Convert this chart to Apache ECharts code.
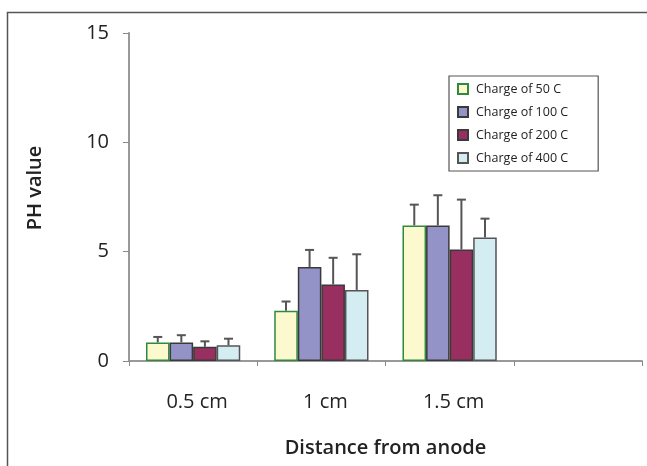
<!DOCTYPE html>
<html><head><meta charset="utf-8">
<script src="https://cdn.jsdelivr.net/npm/echarts@6/dist/echarts.min.js"></script>
<style>html,body{margin:0;padding:0;background:#fff}#c{width:647px;height:466px}</style>
</head><body><div id="c"></div>
<script>
const categories = ['0.5 cm', '1 cm', '1.5 cm', ''];
const seriesNames = ['Charge of 50 C', 'Charge of 100 C', 'Charge of 200 C', 'Charge of 400 C'];
const charge50 = [0.85, 2.3, 6.2, null];
const charge100 = [0.85, 4.3, 6.2, null];
const charge200 = [0.65, 3.5, 5.1, null];
const charge400 = [0.72, 3.25, 5.65, null];
const err50 = [0.25, 0.42, 0.95, null];
const err100 = [0.33, 0.78, 1.38, null];
const err200 = [0.25, 1.22, 2.28, null];
const err400 = [0.3, 1.63, 0.86, null];
const yTicks = [0, 5, 10, 15];

const values = [charge50, charge100, charge200, charge400];
const errs = [err50, err100, err200, err400];
const fills = ['#fdf9cf', '#9393c8', '#982f60', '#d3edf3'];
const borders = ['#2f8a3c', '#3a3a3a', '#3a3a3a', '#555555'];
const FONT = 'Open Sans';
const catGap = 0.265;

const chart = echarts.init(document.getElementById('c'));
const series = [];
values.forEach((v, i) => {
  series.push({
    name: seriesNames[i], type: 'bar', data: v, barGap: 0, barCategoryGap: (catGap * 100) + '%',
    itemStyle: { color: fills[i], borderColor: borders[i], borderWidth: 1.5 },
    z: 2
  });
});
values.forEach((v, i) => {
  series.push({
    type: 'custom', silent: true, z: 3,
    data: v.map((val, k) => [k, val, errs[i][k]]).filter(d => d[1] != null),
    renderItem: function (params, api) {
      const k = api.value(0), val = api.value(1), e = api.value(2);
      const bandW = api.size([1, 0])[0];
      const bw = bandW * (1 - catGap) / 4;
      const base = api.coord([k, val]);
      const top = api.coord([k, val + e]);
      const x = base[0] + (i - 1.5) * bw;
      return { type: 'group', children: [
        { type: 'line', shape: { x1: x, y1: base[1], x2: x, y2: top[1] }, style: { stroke: '#555', lineWidth: 2 } },
        { type: 'line', shape: { x1: x - 4.5, y1: top[1], x2: x + 4.5, y2: top[1] }, style: { stroke: '#555', lineWidth: 2 } }
      ]};
    }
  });
});

chart.setOption({
  animation: false,
  backgroundColor: '#fff',
  textStyle: { fontFamily: FONT },
  graphic: [{ type: 'polyline', shape: { points: [[7.5, 466], [7.5, 12.5], [647, 12.5]] }, style: { stroke: '#555', lineWidth: 1.5, fill: null } }],
  grid: { left: 129, right: 5, top: 33, bottom: 105, containLabel: false },
  legend: {
    data: seriesNames, orient: 'vertical', left: 449, top: 76,
    icon: 'rect', itemWidth: 10, itemHeight: 10, itemGap: 8,
    padding: [5.5, 30, 5.5, 8], borderColor: '#555', borderWidth: 1.2,
    textStyle: { fontFamily: FONT, fontSize: 12.5, lineHeight: 15, color: '#222', padding: [0, 0, 0, 3] },
    selectedMode: false
  },
  xAxis: {
    type: 'category', data: categories,
    name: 'Distance from anode', nameLocation: 'middle', nameGap: 77,
    nameTextStyle: { fontFamily: FONT, fontSize: 20, fontWeight: 600, color: '#222' },
    axisLine: { lineStyle: { color: '#999', width: 2 } },
    axisTick: { show: true, length: 5, alignWithLabel: false, lineStyle: { color: '#888' } },
    axisLabel: { margin: 31, fontSize: 20, color: '#222', fontFamily: FONT, padding: [0, 0, 0, 8] }
  },
  yAxis: {
    type: 'value', min: 0, max: 15, interval: 5,
    name: 'PH value', nameLocation: 'middle', nameGap: 84, nameRotate: 90,
    nameTextStyle: { fontFamily: FONT, fontSize: 20, fontWeight: 600, color: '#222', padding: [0, 0, 0, 18] },
    splitLine: { show: false },
    axisLine: { show: true, lineStyle: { color: '#999', width: 2 } },
    axisTick: { show: true, inside: false, length: 6, lineStyle: { color: '#888' } },
    axisLabel: { margin: 20, fontSize: 20, color: '#222', fontFamily: FONT, formatter: v => yTicks.includes(v) ? String(v) : '' }
  },
  series: series
});
</script></body></html>
